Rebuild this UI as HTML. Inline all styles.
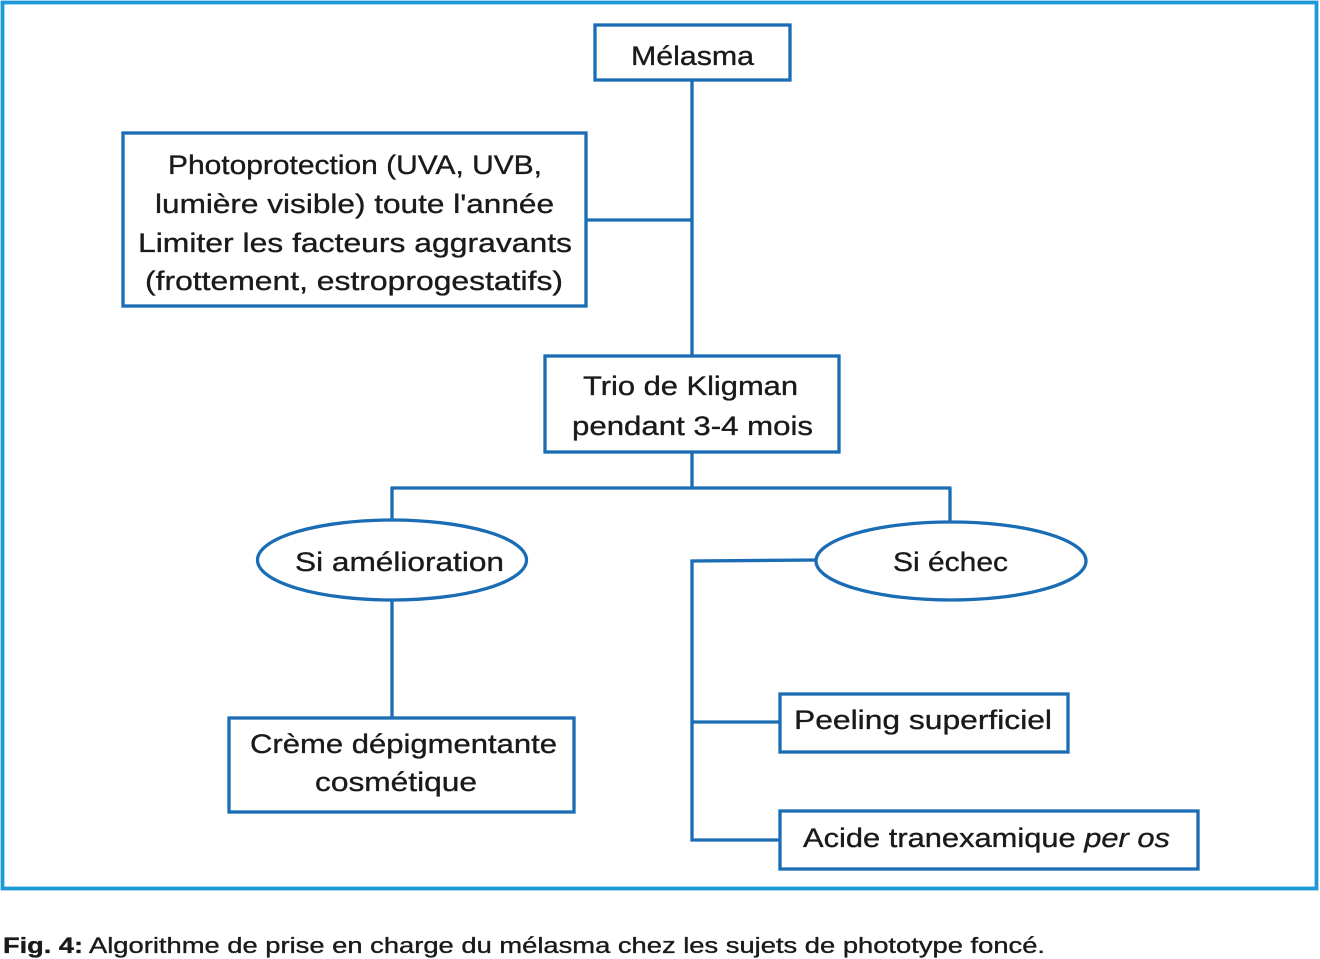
<!DOCTYPE html>
<html><head><meta charset="utf-8"><style>
html,body{margin:0;padding:0;background:#fff;}
svg{display:block;}
text{font-family:"Liberation Sans",sans-serif;fill:#1a1a1a;stroke:#1a1a1a;stroke-width:0.35px;}
</style></head><body>
<svg width="1320" height="959" viewBox="0 0 1320 959" xmlns="http://www.w3.org/2000/svg">
<rect x="0" y="0" width="1320" height="959" fill="#fff" stroke="none"/>
<!-- outer frame -->
<rect x="2.5" y="2.5" width="1314" height="886" fill="none" stroke="#1c9ad8" stroke-width="3.8"/>
<g stroke="#1a6cb4" stroke-width="3.3" fill="none">
  <!-- connectors -->
  <line x1="692" y1="80" x2="692" y2="356"/>
  <line x1="586" y1="220" x2="692" y2="220"/>
  <line x1="692" y1="452" x2="692" y2="488"/>
  <line x1="390.5" y1="488" x2="951.5" y2="488"/>
  <line x1="392" y1="488" x2="392" y2="520"/>
  <line x1="950" y1="488" x2="950" y2="522"/>
  <line x1="392" y1="600" x2="392" y2="718"/>
  <polyline points="816,560 692,561 692,840 780,840"/>
  <line x1="692" y1="722" x2="780" y2="722"/>
  <!-- boxes -->
  <rect x="595" y="25" width="195" height="55"/>
  <rect x="123" y="133" width="463" height="173"/>
  <rect x="545" y="356" width="294" height="96"/>
  <ellipse cx="392" cy="560" rx="134.5" ry="40"/>
  <ellipse cx="951" cy="561" rx="135" ry="39"/>
  <rect x="229" y="718" width="345" height="94"/>
  <rect x="780" y="694" width="288" height="58"/>
  <rect x="780" y="811" width="418" height="58"/>
</g>
<g font-size="27">
  <text x="631" y="65" textLength="123" lengthAdjust="spacingAndGlyphs">Mélasma</text>
  <text x="168" y="174" textLength="374" lengthAdjust="spacingAndGlyphs">Photoprotection (UVA, UVB,</text>
  <text x="155" y="213" textLength="399" lengthAdjust="spacingAndGlyphs">lumière visible) toute l'année</text>
  <text x="138" y="252" textLength="434" lengthAdjust="spacingAndGlyphs">Limiter les facteurs aggravants</text>
  <text x="145" y="290" textLength="418" lengthAdjust="spacingAndGlyphs">(frottement, estroprogestatifs)</text>
  <text x="583" y="395" textLength="215" lengthAdjust="spacingAndGlyphs">Trio de Kligman</text>
  <text x="572" y="435" textLength="241" lengthAdjust="spacingAndGlyphs">pendant 3-4 mois</text>
  <text x="295" y="571" textLength="209" lengthAdjust="spacingAndGlyphs">Si amélioration</text>
  <text x="893" y="571" textLength="115" lengthAdjust="spacingAndGlyphs">Si échec</text>
  <text x="250" y="753" textLength="307" lengthAdjust="spacingAndGlyphs">Crème dépigmentante</text>
  <text x="315" y="791" textLength="162" lengthAdjust="spacingAndGlyphs">cosmétique</text>
  <text x="794" y="729" textLength="258" lengthAdjust="spacingAndGlyphs">Peeling superficiel</text>
  <text x="803" y="847" textLength="367" lengthAdjust="spacingAndGlyphs">Acide tranexamique <tspan font-style="italic">per os</tspan></text>
</g>
<text x="3" y="953" font-size="22" font-weight="bold" textLength="80" lengthAdjust="spacingAndGlyphs">Fig. 4:</text>
<text x="89" y="953" font-size="22" textLength="956" lengthAdjust="spacingAndGlyphs">Algorithme de prise en charge du mélasma chez les sujets de phototype foncé.</text>
</svg>
</body></html>
